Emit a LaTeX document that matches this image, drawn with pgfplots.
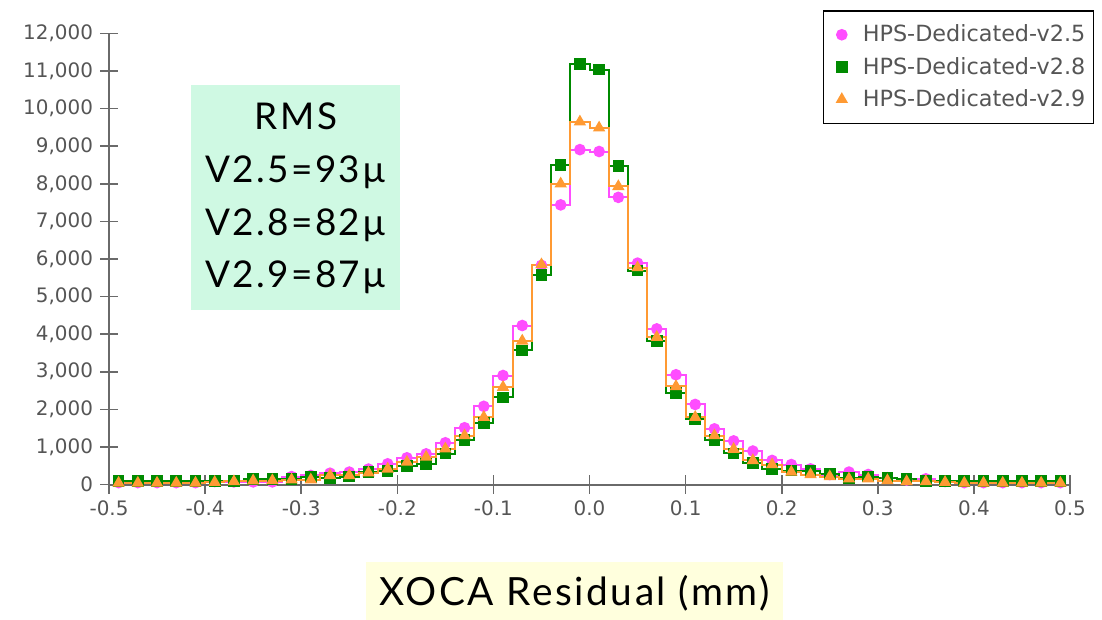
\documentclass[border=0pt]{standalone}
\usepackage{fontspec}
\setmainfont{DejaVu Sans}
\newfontfamily\gill{Lato}[LetterSpace=6.5]
\usepackage{pgfplots}
\usepackage{pgfplotstable}
\pgfplotsset{compat=1.18}

\definecolor{vpink}{HTML}{FF4DFF}
\definecolor{vgreen}{HTML}{008A00}
\definecolor{vorange}{HTML}{FF9A33}
\definecolor{axgray}{HTML}{6A6A6A}
\definecolor{labgray}{HTML}{555555}
\definecolor{rmsbox}{HTML}{CFF9E3}
\definecolor{xbox}{HTML}{FFFFDD}

% bin centre, v2.5, v2.8, v2.9
\pgfplotstableread{
x      a     b      c
-0.49  50    90     40
-0.47  50    90     40
-0.45  50    90     40
-0.43  50    90     40
-0.41  50    90     40
-0.39  80    90     60
-0.37  70    90     80
-0.35  70    150    100
-0.33  70    150    105
-0.31  210   150    125
-0.29  240   195    125
-0.27  300   170    240
-0.25  330   210    240
-0.23  410   330    310
-0.21  550   355    415
-0.19  710   500    595
-0.17  815   550    730
-0.15  1110  820    950
-0.13  1510  1190   1300
-0.11  2080  1630   1790
-0.09  2900  2320   2590
-0.07  4230  3570   3820
-0.05  5830  5580   5850
-0.03  7440  8500   8000
-0.01  8910  11190  9650
0.01   8860  11040  9490
0.03   7640  8470   7930
0.05   5890  5690   5770
0.07   4140  3820   3920
0.09   2920  2440   2610
0.11   2130  1750   1790
0.13   1480  1190   1300
0.15   1160  830    940
0.17   890   570    640
0.19   640   415    530
0.21   530   370    330
0.23   415   355    265
0.25   265   285    210
0.27   330   180    150
0.29   265   210    150
0.31   180   180    105
0.33   120   150    80
0.35   150   90     80
0.37   80    90     60
0.39   50    90     40
0.41   50    90     40
0.43   50    90     40
0.45   50    90     40
0.47   50    90     40
0.49   50    90     40
}\hist

\newcommand\tickfont{\fontsize{10}{12}\selectfont}

\begin{document}
\begin{tikzpicture}
\useasboundingbox (-54.5bp,-67.75bp) rectangle (496.5bp,242.25bp);
\begin{axis}[
  at={(0,0)}, anchor=south west,
  scale only axis, width=480.5bp, height=225.5bp,
  xmin=-0.5, xmax=0.5, ymin=0, ymax=12000,
  axis lines*=left,
  axis line style={draw=axgray, line width=1bp},
  tick align=center, major tick length=9bp,
  tick style={draw=axgray, line width=0.8bp},
  xtick={-0.5,-0.4,-0.3,-0.2,-0.1,0,0.1,0.2,0.3,0.4,0.5},
  ytick={0,1000,2000,3000,4000,5000,6000,7000,8000,9000,10000,11000,12000},
  minor tick num=0,
  scaled y ticks=false, scaled x ticks=false,
  /pgf/number format/assume math mode=true,
  yticklabel style={/pgf/number format/1000 sep={,}, font=\tickfont, text=labgray},
  xticklabel style={/pgf/number format/fixed, /pgf/number format/fixed zerofill,
    /pgf/number format/precision=1, font=\tickfont, text=labgray},
  clip=false,
  legend style={at={(axis description cs:1.025,1.052)}, anchor=north east,
    draw=black, line width=0.75bp, font=\fontsize{11.2}{12.5}\selectfont,
    text=labgray, row sep=2.2bp, inner xsep=2bp, inner ysep=5bp},
  legend cell align=left,
  legend image code/.code={\path[draw=none] (-0.05cm,0cm) (0.5cm,0cm);
    \draw[#1, only marks] plot coordinates {(0.2cm,0cm)};},
  every axis plot/.append style={line width=1bp, const plot mark mid},
]
\addplot[color=vpink, mark=*, mark size=2.4bp, mark options={fill=vpink, draw=vpink}]
  table[x=x, y=a] {\hist};
\addlegendentry{HPS-Dedicated-v2.5}
\addplot[color=vgreen, mark=square*, mark size=2.4bp, mark options={fill=vgreen, draw=vgreen}]
  table[x=x, y=b] {\hist};
\addlegendentry{HPS-Dedicated-v2.8}
\addplot[color=vorange, mark=triangle*, mark size=2.6bp, mark options={fill=vorange, draw=vorange}]
  table[x=x, y=c] {\hist};
\addlegendentry{HPS-Dedicated-v2.9}
\end{axis}
\fill[rmsbox] (41bp,87.25bp) rectangle (145.5bp,199.75bp);
\node[font=\gill\fontsize{18.5}{26.5}\selectfont, align=center, inner sep=0pt]
  at (93.5bp,143bp) {RMS\\V2.5=93µ\\V2.8=82µ\\V2.9=87µ};
\fill[xbox] (128.5bp,-67.75bp) rectangle (337bp,-38.75bp);
\node[font=\gill\fontsize{19.5}{20}\selectfont, inner sep=0pt]
  at (232.75bp,-54.5bp) {XOCA Residual (mm)};
\end{tikzpicture}
\end{document}
